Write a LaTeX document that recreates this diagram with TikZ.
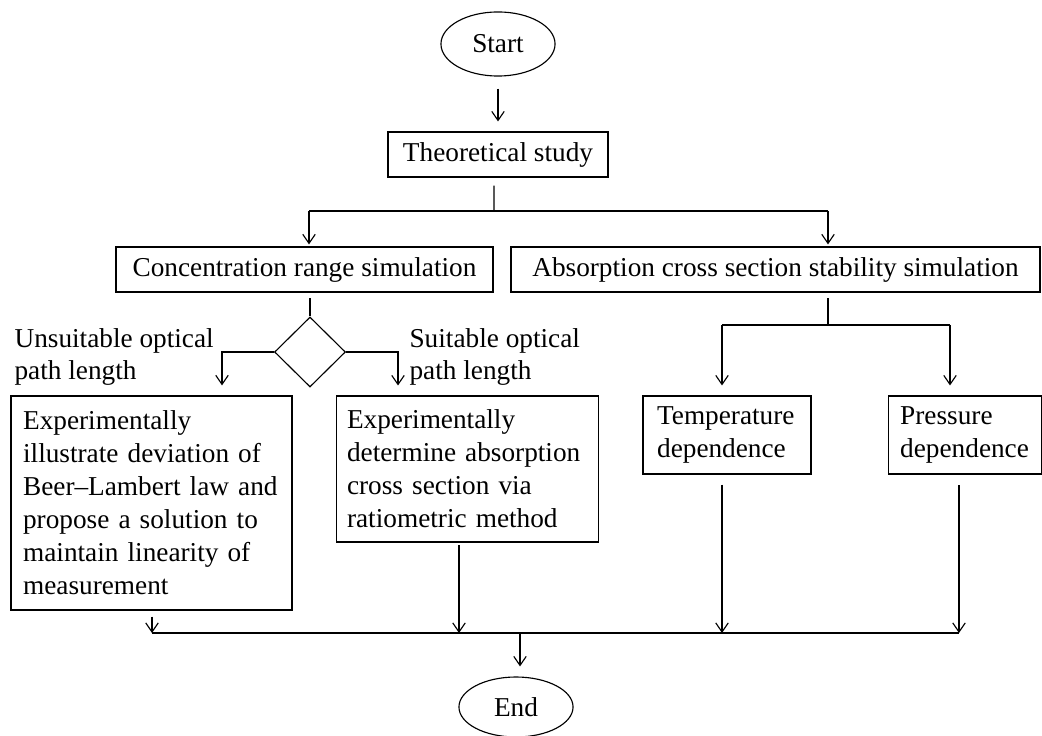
\documentclass[tikz,border=0pt]{standalone}
\usepackage{fontspec}
\setmainfont{Liberation Serif}
\usetikzlibrary{shapes.geometric,arrows.meta}

\tikzset{
  >={Straight Barb[length=4pt,width=5.5pt]},
  every path/.style={line width=0.5pt},
  txt/.style={font=\fontsize{12pt}{14.5pt}\selectfont},
  term/.style={txt, draw, ellipse, inner sep=0pt, minimum width=50.2pt},
  flowbox/.style={txt, draw, rectangle, inner sep=0pt, minimum height=19.8pt},
  textbox/.style={txt, draw, rectangle, align=left, inner ysep=0pt},
  decide/.style={draw, diamond, inner sep=0pt, minimum width=31.2pt, minimum height=30.8pt},
  tag/.style={txt, anchor=west, align=left, inner sep=0pt}
}

\begin{document}
\begin{tikzpicture}[x=0.44pt, y=-0.44pt]
\useasboundingbox (0,0) rectangle (1042,736);

\node[term, minimum height=28.2pt] (start) at (498,44) {Start};
\node[flowbox, minimum width=96.8pt] (theory) at (498,154.5) {Theoretical study};
\node[flowbox, minimum width=165.9pt] (conc) at (304.5,269.5) {Concentration range simulation};
\node[flowbox, minimum width=232.8pt] (abs) at (775.5,269.5) {Absorption cross section stability simulation};
\node[decide] (check) at (310,352) {};
\node[tag] (unsuit) at (14,357) {Unsuitable optical\\path length};
\node[tag] (suit) at (409,357) {Suitable optical\\path length};
\node[textbox, text width=113pt, inner xsep=5.3pt, minimum height=94.2pt] (deviate) at (151.5,503)
  {Experimentally\\illustrate deviation of\\Beer--Lambert law and\\propose a solution to\\maintain linearity of\\measurement};
\node[textbox, text width=106pt, inner xsep=4.8pt, minimum height=64.2pt] (ratio) at (467.5,469)
  {Experimentally\\determine absorption\\cross section via\\ratiometric method};
\node[textbox, text width=61.5pt, inner xsep=6.2pt, minimum height=34.3pt] (temp) at (727,435)
  {Temperature\\dependence};
\node[textbox, text width=57pt, inner xsep=5pt, minimum height=34.3pt] (pres) at (965,435)
  {Pressure\\dependence};
\node[term, minimum height=26.4pt] (end) at (516,707) {End};

% branch points
\coordinate (fork1) at (494,211);
\coordinate (toconc) at (309,211);
\coordinate (toabs) at (828,211);
\coordinate (toleft) at (222,352);
\coordinate (toright) at (398,352);
\coordinate (fork2) at (828,325);
\coordinate (totemp) at (722,325);
\coordinate (topres) at (950,325);
\coordinate (in1) at (152,633);
\coordinate (in2) at (459,633);
\coordinate (in3) at (722,633);
\coordinate (in4) at (959,633);
\coordinate (merge) at (520,633);

\draw[->, shorten <=5.3pt, shorten >=4.4pt] (start.south) -- (theory.north);
\draw[shorten <=3.5pt] ([xshift=-1.8pt]theory.south) -- (fork1);
\draw (toconc) -- (toabs);
\draw[->, shorten >=0.9pt] (toconc) -- (toconc |- conc.north);
\draw[->, shorten >=0.9pt] (toabs) -- (toabs |- abs.north);

\draw[shorten <=2.6pt] (check.north |- conc.south) -- (check.north);
\draw[->, shorten >=4.4pt] (check.west) -- (toleft) -- (toleft |- deviate.north);
\draw[->, shorten >=4.4pt] (check.east) -- (toright) -- (toright |- ratio.north);

\draw[shorten <=2.6pt] (fork2 |- abs.south) -- (fork2);
\draw (totemp) -- (topres);
\draw[->, shorten >=4.4pt] (totemp) -- (totemp |- temp.north);
\draw[->, shorten >=4.4pt] (topres) -- (topres |- pres.north);

\draw[->, shorten <=2.6pt] (deviate.south -| in1) -- (in1);
\draw[->, shorten <=1.3pt] (ratio.south -| in2) -- (in2);
\draw[->, shorten <=4.4pt] (temp.south -| in3) -- (in3);
\draw[->, shorten <=4.8pt] (pres.south -| in4) -- (in4);
\draw (in1) -- (in4);
\draw[->, shorten >=4.4pt] (merge) -- (merge |- end.north);

\end{tikzpicture}
\end{document}
